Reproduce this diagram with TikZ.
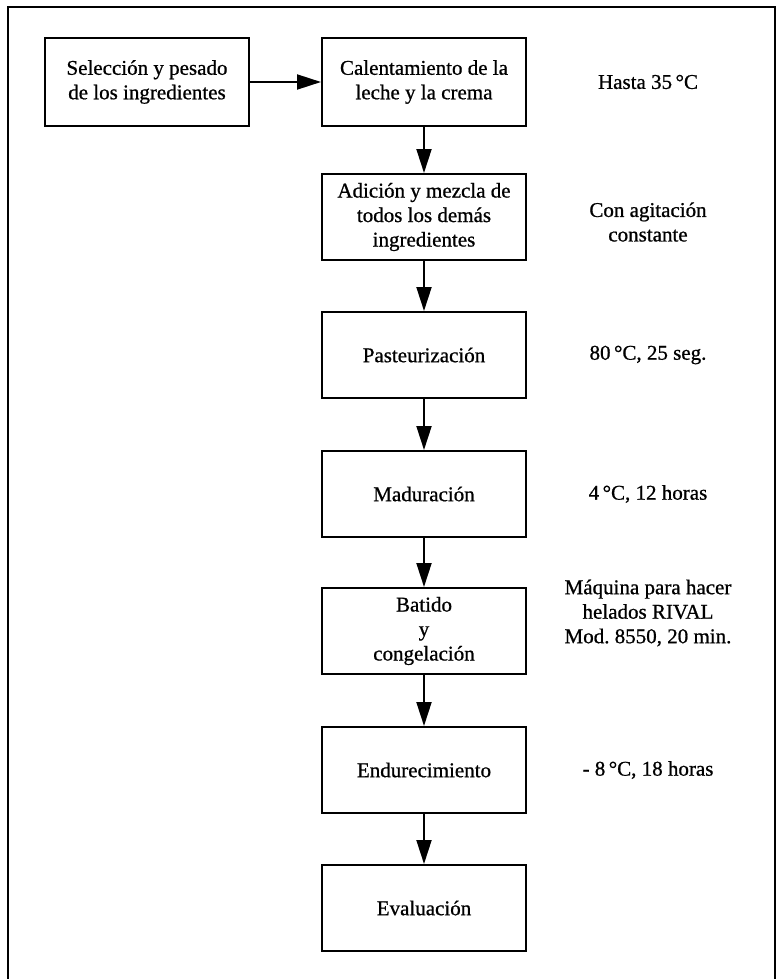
\documentclass[tikz,border=0pt]{standalone}
\usepackage{fontspec}
\setmainfont{Liberation Serif}[FakeBold=0.8]
\usetikzlibrary{arrows.meta}

\begin{document}
\begin{tikzpicture}[x=1pt, y=-1pt,
		paso/.style={draw, line width=2pt, minimum width=204pt, minimum height=86pt, align=center, inner sep=2pt},
		nota/.style={align=center},
		flecha/.style={line width=2pt, -{Triangle[length=24pt, width=15pt]}},
		font=\fontsize{21}{24.5}\selectfont]
		%%%%% START %%%%%
		
		\useasboundingbox (0, 0) rectangle (783, 979);
		\draw[line width=2pt] (8, 979) -- (8, 7) -- (775, 7) -- (775, 979);
		
		\node[paso, minimum height=88pt] (seleccion) at (147, 82) {Selección y pesado\\de los ingredientes};
		\node[paso, minimum height=88pt] (calentamiento) at (424, 82) {Calentamiento de la\\leche y la crema};
		\node[paso] (adicion) at (424, 217) {Adición y mezcla de\\todos los demás\\ingredientes};
		\node[paso] (pasteurizacion) at (424, 355) {Pasteurización};
		\node[paso] (maduracion) at (424, 494) {Maduración};
		\node[paso] (batido) at (424, 631) {Batido\\y\\congelación};
		\node[paso] (endurecimiento) at (424, 770) {Endurecimiento};
		\node[paso] (evaluacion) at (424, 908) {Evaluación};
		
		\node[nota] (n1) at (648, 82) {Hasta 35\,°C};
		\node[nota] (n2) at (648, 222) {Con agitación\\constante};
		\node[nota] (n3) at (648, 355) {80\,°C, 25 seg.};
		\node[nota] (n4) at (648, 494) {4\,°C, 12 horas};
		\node[nota] (n5) at (648, 613) {Máquina para hacer\\helados RIVAL\\Mod.\ 8550, 20 min.};
		\node[nota] (n6) at (648, 770) {- 8\,°C, 18 horas};
		
		\draw[flecha] (seleccion) -- (calentamiento);
		\draw[flecha] (calentamiento) -- (adicion);
		\draw[flecha] (adicion) -- (pasteurizacion);
		\draw[flecha] (pasteurizacion) -- (maduracion);
		\draw[flecha] (maduracion) -- (batido);
		\draw[flecha] (batido) -- (endurecimiento);
		\draw[flecha] (endurecimiento) -- (evaluacion);
		
		%%%%% END %%%%%
	\end{tikzpicture}
\end{document}
